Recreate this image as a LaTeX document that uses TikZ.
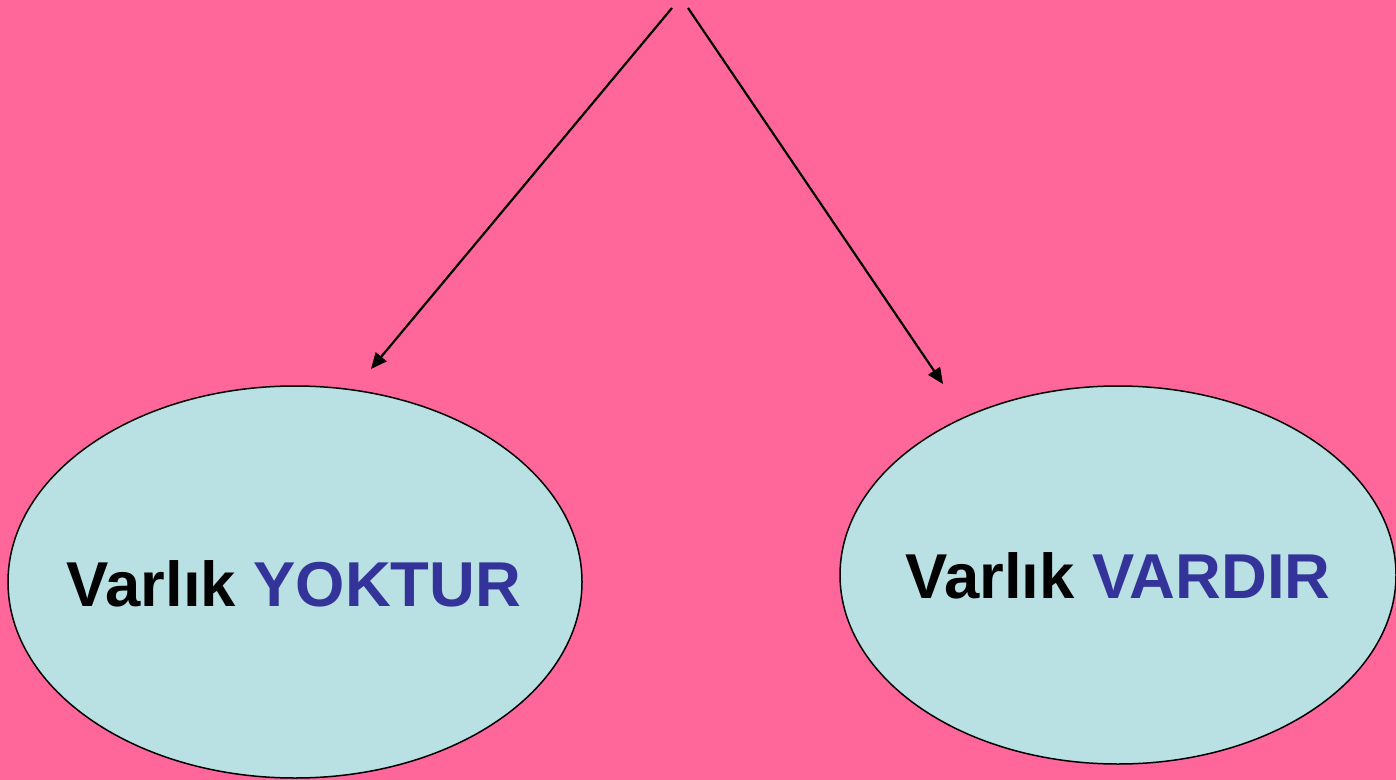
\documentclass[tikz,border=0pt]{standalone}
\usepackage{fontspec}
\setmainfont{Liberation Sans}
\usetikzlibrary{shapes.geometric,arrows.meta}
\definecolor{bgpink}{HTML}{FF6699}
\definecolor{ellfill}{HTML}{B9E0E3}
\definecolor{txtblue}{HTML}{333399}
\begin{document}
\begin{tikzpicture}[x=0.5pt,y=-0.5pt,
  oval/.style={ellipse, draw=black, line width=0.75pt, fill=ellfill, inner sep=0pt},
  label/.style={font=\fontsize{31.7}{38}\selectfont\bfseries},
  conn/.style={line width=1.1pt, -{Triangle[length=8pt,width=7pt]}}]
\fill[bgpink] (0,0) rectangle (1396,780);
\useasboundingbox (0,0) rectangle (1396,780);
\node[oval, minimum width=574*0.5pt, minimum height=392*0.5pt] (left) at (295,582) {};
\node[oval, minimum width=556*0.5pt, minimum height=378*0.5pt] (right) at (1118,575) {};
\node[label, anchor=base] (lt) at (294,606) {Varlık \textcolor{txtblue}{YOKTUR}};
\node[label, anchor=base] (rt) at (1118,598) {Varlık \textcolor{txtblue}{VARDIR}};
\coordinate (s1) at (672,8);
\coordinate (e1) at (371,369);
\coordinate (s2) at (688,8);
\coordinate (e2) at (943,384);
\draw[conn] (s1) -- (e1);
\draw[conn] (s2) -- (e2);
\end{tikzpicture}
\end{document}
